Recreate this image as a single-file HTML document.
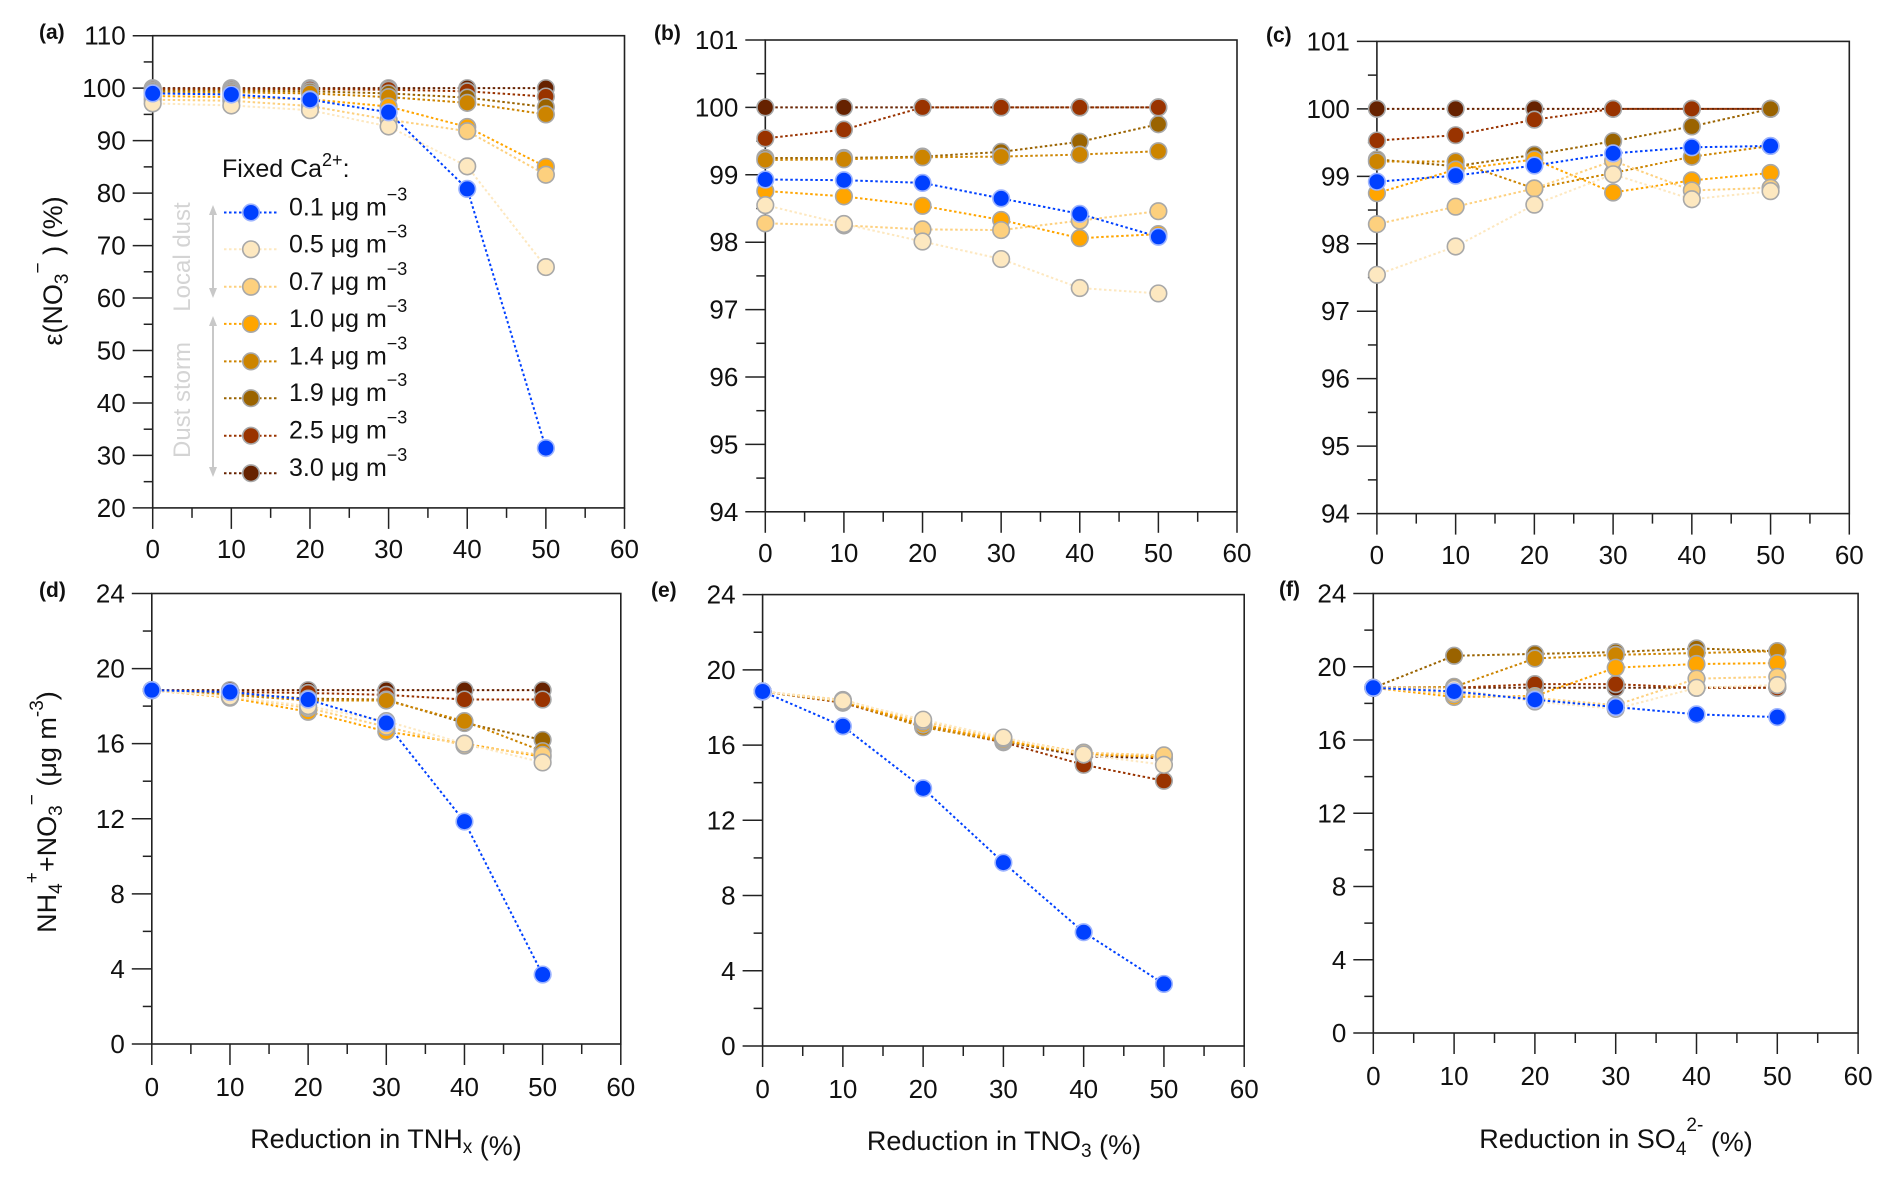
<!DOCTYPE html>
<html><head><meta charset="utf-8"><style>
html,body{margin:0;padding:0;background:#fff;}
svg{display:block;font-family:"Liberation Sans",sans-serif;}
</style></head><body>
<svg id="fig" width="1892" height="1177" viewBox="0 0 1892 1177" xmlns="http://www.w3.org/2000/svg"></svg>
<script>
const xCats = [0, 10, 20, 30, 40, 50];
const seriesNames = ["0.1", "0.5", "0.7", "1.0", "1.4", "1.9", "2.5", "3.0"];
const seriesColors = ["#0040ff", "#fde8c0", "#fdd07e", "#ffa500", "#cc8400", "#9a6300", "#993300", "#662200"];
const xTicks = [0, 10, 20, 30, 40, 50, 60];
const ticksA = [20, 30, 40, 50, 60, 70, 80, 90, 100, 110];
const ticksB = [94, 95, 96, 97, 98, 99, 100, 101];
const ticksD = [0, 4, 8, 12, 16, 20, 24];

// panel a: epsilon(NO3-) vs TNHx reduction
const a01 = [99.0, 98.8, 97.8, 95.4, 80.8, 31.4];
const a05 = [97.1, 96.7, 95.8, 92.7, 85.1, 65.9];
const a07 = [97.8, 97.6, 96.6, 94.0, 91.8, 83.5];
const a10 = [98.5, 98.3, 97.9, 96.5, 92.6, 85.0];
const a14 = [99.2, 99.2, 99.0, 98.3, 97.2, 95.0];
const a19 = [99.5, 99.5, 99.4, 99.0, 98.2, 96.4];
const a25 = [99.8, 99.8, 99.8, 99.7, 99.4, 98.4];
const a30 = [100, 100, 100, 100, 100, 100];
// panel b: epsilon vs TNO3 reduction
const b01 = [98.93, 98.92, 98.88, 98.65, 98.42, 98.08];
const b05 = [98.55, 98.27, 98.01, 97.75, 97.32, 97.24];
const b07 = [98.28, 98.25, 98.19, 98.18, 98.32, 98.46];
const b10 = [98.76, 98.68, 98.54, 98.33, 98.06, 98.12];
const b14 = [99.22, 99.23, 99.26, 99.27, 99.30, 99.35];
const b19 = [99.25, 99.25, 99.27, 99.34, 99.49, 99.75];
const b25 = [99.54, 99.67, 100, 100, 100, 100];
const b30 = [100, 100, 100, 100, 100, 100];
// panel c: epsilon vs SO4 reduction
const c01 = [98.92, 99.01, 99.16, 99.34, 99.43, 99.45];
const c05 = [97.54, 97.96, 98.58, 99.03, 98.66, 98.78];
const c07 = [98.29, 98.55, 98.82, 99.23, 98.79, 98.83];
const c10 = [98.75, 99.10, 99.25, 98.76, 98.94, 99.05];
const c14 = [99.22, 99.22, 98.82, 99.05, 99.29, 99.45];
const c19 = [99.25, 99.15, 99.32, 99.52, 99.74, 100];
const c25 = [99.53, 99.61, 99.84, 100, 100, 100];
const c30 = [100, 100, 100, 100, 100, 100];
// panel d: NH4+NO3 vs TNHx
const d01 = [18.85, 18.75, 18.35, 17.1, 11.85, 3.7];
const d05 = [18.85, 18.5, 18.0, 17.2, 16.0, 15.0];
const d07 = [18.85, 18.5, 17.9, 16.9, 15.9, 15.4];
const d10 = [18.85, 18.45, 17.7, 16.65, 16.0, 15.3];
const d14 = [18.85, 18.6, 18.3, 18.3, 17.2, 15.6];
const d19 = [18.85, 18.7, 18.4, 18.35, 17.1, 16.2];
const d25 = [18.85, 18.75, 18.7, 18.6, 18.35, 18.35];
const d30 = [18.85, 18.85, 18.85, 18.85, 18.85, 18.85];
// panel e: NH4+NO3 vs TNO3
const e01 = [18.85, 17.0, 13.7, 9.75, 6.05, 3.3];
const e05 = [18.85, 18.35, 17.35, 16.4, 15.5, 14.95];
const e07 = [18.85, 18.4, 17.25, 16.35, 15.6, 15.45];
const e10 = [18.85, 18.35, 17.1, 16.25, 15.55, 15.35];
const e14 = [18.85, 18.3, 16.95, 16.2, 15.5, 15.4];
const e19 = [18.85, 18.3, 17.05, 16.2, 15.5, 15.4];
const e25 = [18.85, 18.25, 17.0, 16.15, 14.95, 14.1];
const e30 = [18.85, 18.3, 17.1, 16.2, 15.4, 15.3];
// panel f: NH4+NO3 vs SO4
const f01 = [18.85, 18.65, 18.2, 17.8, 17.4, 17.25];
const f05 = [18.85, 18.8, 18.1, 17.7, 18.85, 19.0];
const f07 = [18.85, 18.5, 18.3, 17.9, 19.35, 19.45];
const f10 = [18.85, 18.35, 18.4, 19.95, 20.15, 20.2];
const f14 = [18.85, 18.9, 20.45, 20.65, 20.75, 20.85];
const f19 = [18.85, 20.6, 20.7, 20.8, 21.0, 20.85];
const f25 = [18.85, 18.85, 19.05, 19.05, 18.85, 18.85];
const f30 = [18.85, 18.85, 18.85, 18.85, 18.85, 18.85];

const NS = "http://www.w3.org/2000/svg";
const svg = document.getElementById("fig");
function mk(tag, attrs, parent) {
  const e = document.createElementNS(NS, tag);
  for (const k in attrs) e.setAttribute(k, attrs[k]);
  (parent || svg).appendChild(e);
  return e;
}

const panels = [
  {id:"a", x0:152.7, x1:624.5, yT:35.7, yB:507.9, ymin:20, ymax:110, ticks:ticksA, minor:5, data:[a01,a05,a07,a10,a14,a19,a25,a30], lab:[39,39], xl:558},
  {id:"b", x0:765.3, x1:1237, yT:40, yB:511.8, ymin:94, ymax:101, ticks:ticksB, minor:0.5, data:[b01,b05,b07,b10,b14,b19,b25,b30], lab:[654,40], xl:562},
  {id:"c", x0:1376.9, x1:1849.3, yT:41.4, yB:513.6, ymin:94, ymax:101, ticks:ticksB, minor:0.5, data:[c01,c05,c07,c10,c14,c19,c25,c30], lab:[1266,42], xl:564},
  {id:"d", x0:151.8, x1:620.8, yT:593.5, yB:1044, ymin:0, ymax:24, ticks:ticksD, minor:2, data:[d01,d05,d07,d10,d14,d19,d25,d30], lab:[39,597], xl:1096},
  {id:"e", x0:762.6, x1:1244.2, yT:594.6, yB:1046, ymin:0, ymax:24, ticks:ticksD, minor:2, data:[e01,e05,e07,e10,e14,e19,e25,e30], lab:[651,597], xl:1098},
  {id:"f", x0:1373.3, x1:1858.1, yT:593.5, yB:1033, ymin:0, ymax:24, ticks:ticksD, minor:2, data:[f01,f05,f07,f10,f14,f19,f25,f30], lab:[1279,596], xl:1085}
];

panels.forEach(p => {
  const g = mk("g", {});
  
  
  const sx = v => p.x0 + (v - 0) / 60 * (p.x1 - p.x0);
  const sy = v => p.yB - (v - p.ymin) / (p.ymax - p.ymin) * (p.yB - p.yT);
  const frame = mk("rect", {x:p.x0, y:p.yT, width:p.x1-p.x0, height:p.yB-p.yT, fill:"none", stroke:"#222", "stroke-width":1.6}, g);
  
  
  for (let v = p.ymin; v <= p.ymax + 1e-9; v += p.minor) {
    const major = p.ticks.some(t => Math.abs(t - v) < 1e-6);
    mk("line", {x1:p.x0 - (major ? 20 : 9), x2:p.x0, y1:sy(v), y2:sy(v), stroke:"#222", "stroke-width":1.5}, g);
  }
  p.ticks.forEach(t => {
    const tx = mk("text", {x:p.x0 - 27, y:sy(t) + 9, "text-anchor":"end", "font-size":26, fill:"#111"}, g);
    tx.textContent = t;
    
    
  });
  for (let v = 0; v <= 60; v += 5) {
    const major = v % 10 === 0;
    mk("line", {x1:sx(v), x2:sx(v), y1:p.yB, y2:p.yB + (major ? 21 : 10), stroke:"#222", "stroke-width":1.5}, g);
  }
  xTicks.forEach(t => {
    const tx = mk("text", {x:sx(t), y:p.xl, "text-anchor":"middle", "font-size":26, fill:"#111"}, g);
    tx.textContent = t;
    
    
  });
  const pl = mk("text", {x:p.lab[0], y:p.lab[1], "font-size":21, "font-weight":"bold", fill:"#111"}, g);
  pl.textContent = "(" + p.id + ")";
  
  
  for (let s = seriesNames.length - 1; s >= 0; s--) {
    const vals = p.data[s];
    const sg = mk("g", {}, g);
    
    
    const pts = vals.map((v, i) => sx(xCats[i]) + "," + sy(v)).join(" ");
    mk("polyline", {points:pts, fill:"none", stroke:seriesColors[s], "stroke-width":2, "stroke-dasharray":"2.5,2.5"}, sg);
  }
  for (let s = seriesNames.length - 1; s >= 0; s--) {
    const vals = p.data[s];
    vals.forEach((v, i) => {
      const c = mk("circle", {cx:sx(xCats[i]), cy:sy(v), r:8.3, fill:seriesColors[s], stroke: s === 0 ? "#9db4ff" : "#a8a8a8", "stroke-width":1.6}, g);
      
      
    });
  }
});

function txt(x, y, size, content, name, extra) {
  const t = mk("text", Object.assign({x:x, y:y, "font-size":size, fill:"#111"}, extra || {}));
  t.innerHTML = content;
  
  
  return t;
}
txt(386, 1148, 27, 'Reduction in TNH<tspan font-size="19" dy="5">x</tspan><tspan dy="2"> (%)</tspan>', 'x-axis-title-d', {"text-anchor":"middle"});
txt(1004, 1150, 27, 'Reduction in TNO<tspan font-size="19" dy="7">3</tspan><tspan dy="-3"> (%)</tspan>', 'x-axis-title-e', {"text-anchor":"middle"});
txt(1616, 1148, 27, 'Reduction in SO<tspan font-size="19" dy="7">4</tspan><tspan font-size="19" dy="-24">2-</tspan><tspan dy="20"> (%)</tspan>', 'x-axis-title-f', {"text-anchor":"middle"});
txt(0, 0, 27, 'ε(NO<tspan font-size="19" dy="6">3</tspan><tspan font-size="19" dy="-24">−</tspan><tspan dy="18"> ) (%)</tspan>', 'y-axis-title-top', {"text-anchor":"middle", transform:"translate(62,271) rotate(-90)"});
txt(0, 0, 27, 'NH<tspan font-size="19" dy="6">4</tspan><tspan font-size="19" dy="-24">+</tspan><tspan dy="18">+NO</tspan><tspan font-size="19" dy="6">3</tspan><tspan font-size="19" dy="-24">−</tspan><tspan dy="18">  (μg m</tspan><tspan font-size="19" dy="-13">-3</tspan><tspan dy="13">)</tspan>', 'y-axis-title-bottom', {"text-anchor":"middle", transform:"translate(56,812) rotate(-90)"});

const lg = mk("g", {});


const lt = mk("text", {x:222, y:177, "font-size":25, fill:"#111"}, lg);
lt.innerHTML = 'Fixed Ca<tspan font-size="18" dy="-11">2+</tspan><tspan dy="11">:</tspan>';
const legY = [212.5, 249.3, 286.8, 323.9, 361.4, 398.2, 435.7, 473.2];
seriesNames.forEach((n, i) => {
  const eg = mk("g", {}, lg);
  
  
  mk("line", {x1:224, x2:277, y1:legY[i], y2:legY[i], stroke:seriesColors[i], "stroke-width":2, "stroke-dasharray":"2.5,2.5"}, eg);
  mk("circle", {cx:251, cy:legY[i], r:8.3, fill:seriesColors[i], stroke: i === 0 ? "#9db4ff" : "#a8a8a8", "stroke-width":1.6}, eg);
  const t = mk("text", {x:289, y:legY[i] + 3, "font-size":25, fill:"#111"}, eg);
  t.innerHTML = n + ' μg m<tspan font-size="18" dy="-15">−3</tspan>';
});
const ag = mk("g", {});


function arrow(y1, y2) {
  mk("line", {x1:213, x2:213, y1:y1 + 6, y2:y2 - 6, stroke:"#c8c8c8", "stroke-width":2}, ag);
  mk("polygon", {points:`213,${y1} 209,${y1 + 10} 217,${y1 + 10}`, fill:"#c8c8c8"}, ag);
  mk("polygon", {points:`213,${y2} 209,${y2 - 10} 217,${y2 - 10}`, fill:"#c8c8c8"}, ag);
}
arrow(205, 298);
arrow(316, 477);
const t1 = mk("text", {x:0, y:0, "font-size":24, fill:"#d4d4d4", "text-anchor":"middle", transform:"translate(190,257) rotate(-90)"}, ag);
t1.textContent = "Local dust";
const t2 = mk("text", {x:0, y:0, "font-size":24, fill:"#d4d4d4", "text-anchor":"middle", transform:"translate(190,400) rotate(-90)"}, ag);
t2.textContent = "Dust storm";
</script>
</body></html>
